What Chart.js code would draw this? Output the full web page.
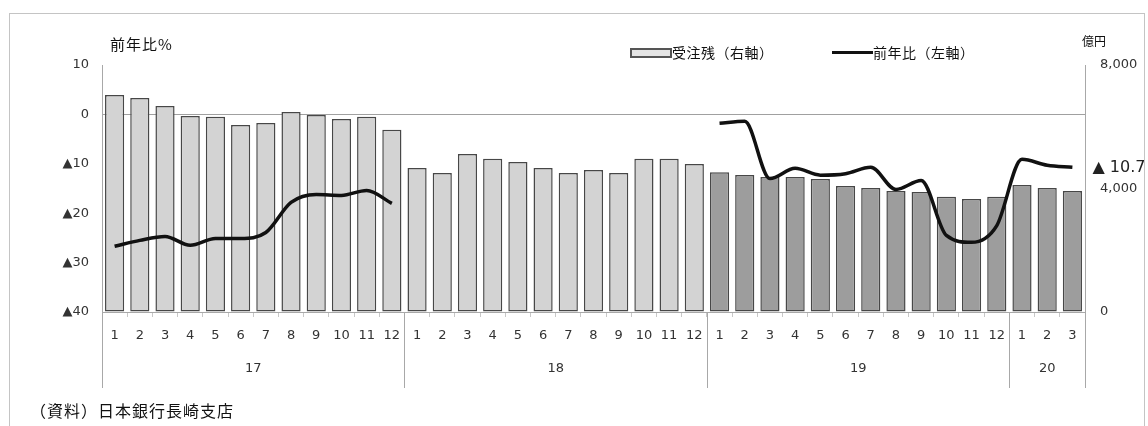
<!DOCTYPE html>
<html lang="ja">
<head>
<meta charset="utf-8">
<script src="https://cdn.jsdelivr.net/npm/chart.js@4.4.1/dist/chart.umd.min.js"></script>
<style>
  html, body { margin: 0; padding: 0; background: #fff; }
  #wrap { position: relative; width: 1148px; height: 426px; overflow: hidden; font-family: "Noto Sans CJK JP", sans-serif; color: #111; }
  #chart { position: absolute; left: 0; top: 0; }
  .frame { position: absolute; left: 9px; top: 13px; width: 1136px; height: 520px; border: 1px solid #c4c4c4; box-sizing: border-box; pointer-events: none; }
  .txt { position: absolute; white-space: nowrap; line-height: 1; }
  .barIcon { position: absolute; left: 630px; top: 48px; width: 38px; height: 6px; border: 2px solid #555; background: #e4e4e4; }
  .lineIcon { position: absolute; left: 832px; top: 51px; width: 41px; height: 3px; background: #111; }
</style>
</head>
<body>
<div id="wrap">
  <canvas id="chart" width="1148" height="426"></canvas>
  <div class="frame"></div>
  <div class="txt" style="left:110px; top:36px; font-size:15px; letter-spacing:1px;">前年比%</div>
  <div class="txt" style="left:1082px; top:35px; font-size:12px;">億円</div>
  <div class="barIcon"></div>
  <div class="txt" style="left:672px; top:45px; font-size:14px; letter-spacing:0.5px;">受注残（右軸）</div>
  <div class="lineIcon"></div>
  <div class="txt" style="left:873px; top:45px; font-size:14px; letter-spacing:0.5px;">前年比（左軸）</div>
  <div class="txt" style="left:30px; top:402px; font-size:16px; letter-spacing:1px;">（資料）日本銀行長崎支店</div>
</div>
<script>
// months on the axis, grouped by year
const years = ['17', '18', '19', '20'];
const months17 = ['1','2','3','4','5','6','7','8','9','10','11','12'];
const months18 = ['1','2','3','4','5','6','7','8','9','10','11','12'];
const months19 = ['1','2','3','4','5','6','7','8','9','10','11','12'];
const months20 = ['1','2','3'];

// 受注残 (億円, right axis)
const backlog17 = [7030, 6930, 6670, 6350, 6320, 6060, 6120, 6480, 6380, 6250, 6320, 5900];
const backlog18 = [4660, 4500, 5120, 4960, 4860, 4660, 4500, 4600, 4500, 4960, 4960, 4790];
const backlog19 = [4530, 4440, 4370, 4370, 4310, 4080, 4020, 3920, 3890, 3730, 3660, 3730];
const backlog20 = [4110, 4020, 3920];

// 前年比 (%, left axis) - no line in 2018
const yoy17 = [-26.7, -25.5, -24.7, -26.5, -25.1, -25.1, -23.9, -17.8, -16.2, -16.4, -15.4, -18.0];
const yoy18 = [null, null, null, null, null, null, null, null, null, null, null, null];
const yoy19 = [-1.8, -1.4, -13.0, -10.9, -12.3, -12.0, -10.7, -15.2, -13.4, -24.5, -25.9, -22.5];
const yoy20 = [-9.1, -10.3, -10.7];

const monthGroups = [months17, months18, months19, months20];
const labels = monthGroups.flat();
const backlog = [backlog17, backlog18, backlog19, backlog20].flat();
const yoy = [yoy17, yoy18, yoy19, yoy20].flat();

const LIGHT = '#d3d3d3';
const DARK = '#9d9d9d';
const barColors = monthGroups.flatMap((g, i) => g.map(() => (i < 2 ? LIGHT : DARK)));

const tickFont = { family: 'DejaVu Sans', size: 13 };
const fmtYoy = v => (v < 0 ? '▲' + Math.abs(v) : String(v));

// year separators under the axis, year labels and the end label of the line
const yearBands = {
  id: 'yearBands',
  afterDraw(chart) {
    const { ctx, chartArea, scales: { x } } = chart;
    const step = x.getPixelForValue(1) - x.getPixelForValue(0);
    ctx.save();
    ctx.strokeStyle = '#a8a8a8';
    ctx.lineWidth = 1;
    ctx.fillStyle = '#333';
    ctx.font = '13px "DejaVu Sans"';
    ctx.textAlign = 'center';
    ctx.textBaseline = 'middle';
    let start = 0;
    const edges = [chartArea.left];
    monthGroups.forEach((g, i) => {
      const end = start + g.length - 1;
      const cx = (x.getPixelForValue(start) + x.getPixelForValue(end)) / 2;
      ctx.fillText(years[i], cx, 369);
      edges.push(x.getPixelForValue(end) + step / 2);
      start = end + 1;
    });
    edges.forEach(ex => {
      ctx.beginPath();
      ctx.moveTo(Math.round(ex) + 0.5, chartArea.bottom);
      ctx.lineTo(Math.round(ex) + 0.5, 388);
      ctx.stroke();
    });

    // label at the last point of the line
    const meta = chart.getDatasetMeta(0);
    const last = meta.data[meta.data.length - 1];
    ctx.font = '16px "DejaVu Sans"';
    ctx.textAlign = 'left';
    ctx.fillStyle = '#222';
    ctx.fillText('▲ ' + Math.abs(yoy[yoy.length - 1]), last.x + 20, last.y + 1);
    ctx.restore();
  }
};

new Chart(document.getElementById('chart'), {
  data: {
    labels,
    datasets: [
      {
        type: 'line',
        label: '前年比（左軸）',
        data: yoy,
        yAxisID: 'y',
        borderColor: '#111',
        borderWidth: 3.5,
        pointRadius: 0,
        cubicInterpolationMode: 'monotone',
        spanGaps: false,
        order: 0
      },
      {
        type: 'bar',
        label: '受注残（右軸）',
        data: backlog,
        yAxisID: 'y1',
        backgroundColor: barColors,
        borderColor: '#474747',
        borderWidth: 1.5,
        borderSkipped: false,
        barPercentage: 0.76,
        categoryPercentage: 1,
        order: 1
      }
    ]
  },
  options: {
    responsive: false,
    animation: false,
    layout: { padding: { top: 65, left: 0, right: 0, bottom: 0 } },
    plugins: { legend: { display: false }, tooltip: { enabled: false } },
    scales: {
      x: {
        offset: true,
        grid: { drawOnChartArea: false, drawTicks: true, tickLength: 5, color: '#c8c8c8', offset: true },
        border: { display: true, color: '#a8a8a8' },
        ticks: { autoSkip: false, maxRotation: 0, padding: 11, font: tickFont, color: '#333' },
        afterFit: s => { s.height = 114; }
      },
      y: {
        position: 'left',
        min: -40,
        max: 10,
        ticks: { stepSize: 10, padding: 13, font: tickFont, color: '#333', callback: fmtYoy },
        grid: { drawTicks: false, color: c => (c.tick && c.tick.value === 0 ? '#a0a0a0' : 'rgba(0,0,0,0)') },
        border: { display: true, color: '#a8a8a8' },
        afterFit: s => { s.width = 102; }
      },
      y1: {
        position: 'right',
        min: 0,
        max: 8000,
        ticks: { stepSize: 4000, padding: 15, font: tickFont, color: '#333', callback: v => v.toLocaleString('en-US') },
        grid: { drawOnChartArea: false, drawTicks: false },
        border: { display: true, color: '#a8a8a8' },
        afterFit: s => { s.width = 63; }
      }
    }
  },
  plugins: [yearBands]
});
</script>
</body>
</html>
